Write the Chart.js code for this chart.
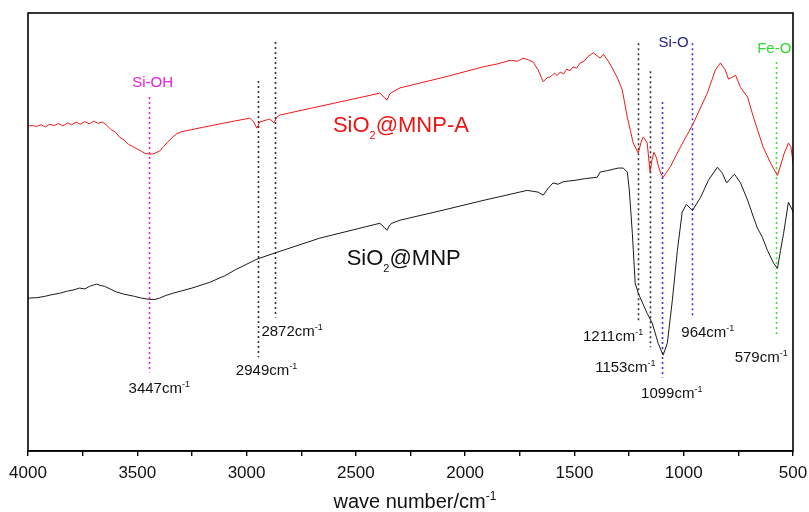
<!DOCTYPE html>
<html>
<head>
<meta charset="utf-8">
<script src="https://cdn.jsdelivr.net/npm/chart.js@4"></script>
<style>
  html, body { margin: 0; padding: 0; background: #fff; }
  #wrap { width: 809px; height: 512px; }
</style>
</head>
<body>
<div id="wrap"><canvas id="ftir" width="809" height="512"></canvas></div>
<script>
// FTIR spectra, wavenumber (cm-1) vs transmittance (arbitrary, 0-100)
const redWave = [4000, 3980, 3960, 3940, 3920, 3900, 3880, 3860, 3840, 3820, 3800, 3780, 3760, 3740, 3720, 3700, 3680, 3660, 3640,
  3620, 3600, 3580, 3560, 3540, 3520, 3500, 3480, 3466, 3447, 3430, 3410, 3397, 3380, 3361, 3340, 3320, 3297, 3200, 3100,
  2985, 2967, 2953, 2940, 2894, 2875, 2860, 2848, 2600, 2390, 2371, 2358, 2345, 2335, 2298, 2100, 1918, 1850, 1794, 1760,
  1735, 1710, 1689, 1666, 1643, 1625, 1611, 1590, 1580, 1565, 1550, 1535, 1520, 1506, 1490, 1474, 1455, 1440, 1414, 1395,
  1382, 1368, 1345, 1322, 1300, 1281, 1258, 1231, 1208, 1195, 1185, 1175, 1167, 1154, 1145, 1136, 1125, 1117, 1105, 1094,
  1060, 1030, 960, 892, 855, 832, 810, 795, 780, 763, 740, 708, 681, 660, 636, 600, 571, 555, 540, 521, 510, 503, 500];
const redT = [74.2, 74.3, 74.1, 74.5, 74.0, 74.6, 74.3, 74.8, 74.2, 74.9, 74.5, 75.1, 74.6, 75.2, 74.7, 75.3, 74.8, 75.1, 74.4,
  73.4, 72.8, 71.6, 71.0, 70.0, 69.5, 68.9, 68.4, 68.0, 67.8, 67.8, 68.2, 68.5, 69.5, 70.5, 71.6, 72.4, 72.9, 73.9, 74.9,
  76.0, 75.1, 73.7, 75.1, 75.8, 74.9, 76.3, 76.7, 79.4, 81.7, 80.8, 80.1, 81.5, 81.9, 82.9, 85.3, 87.7, 88.4, 89.2, 89.0,
  89.7, 89.3, 88.8, 87.0, 84.3, 85.2, 85.4, 86.3, 85.7, 86.5, 86.1, 87.2, 86.8, 87.7, 87.4, 88.6, 89.0, 90.0, 90.9, 90.2,
  89.7, 90.6, 89.0, 87.0, 84.8, 82.4, 76.2, 70.3, 68.0, 70.5, 71.7, 71.0, 70.3, 63.7, 66.5, 68.2, 67.0, 65.3, 63.4, 62.5,
  65.0, 68.0, 74.4, 81.7, 87.0, 88.6, 87.0, 84.9, 85.3, 85.8, 83.0, 80.8, 76.2, 73.0, 69.3, 65.5, 62.9, 65.5, 68.0, 70.3, 69.5, 67.1, 65.5];

const blackWave = [4000, 3960, 3924, 3890, 3856, 3820, 3790, 3764, 3740, 3718, 3700, 3686, 3670, 3650, 3620, 3595, 3560, 3512,
  3480, 3443, 3420, 3398, 3370, 3338, 3250, 3169, 3100, 3054, 2953, 2871, 2665, 2390, 2371, 2358, 2345, 2335, 2298, 2100,
  1918, 1716, 1690, 1666, 1643, 1620, 1598, 1575, 1550, 1497, 1450, 1396, 1382, 1350, 1300, 1277, 1258, 1249, 1235, 1222,
  1208, 1167, 1144, 1117, 1094, 1075, 1052, 1029, 1007, 988, 960, 923, 887, 846, 823, 804, 768, 740, 708, 681, 663, 640,
  617, 589, 571, 557, 543, 521, 503, 500];
const blackT = [34.9, 35.0, 35.3, 35.7, 36.0, 36.5, 36.8, 37.2, 37.0, 37.6, 37.9, 38.1, 37.8, 37.6, 36.9, 36.3, 35.8, 35.3,
  34.9, 34.6, 34.6, 34.9, 35.5, 36.0, 37.2, 38.5, 40.0, 41.3, 43.8, 45.2, 48.6, 52.0, 51.1, 50.4, 51.6, 52.0, 52.7, 55.0,
  57.2, 59.5, 59.3, 59.1, 58.4, 60.0, 61.2, 60.9, 61.5, 61.8, 62.2, 62.5, 63.7, 64.0, 64.6, 64.6, 63.7, 59.6, 49.7, 38.3,
  36.0, 31.4, 29.2, 24.6, 21.9, 24.6, 34.4, 45.8, 54.5, 56.3, 54.9, 57.9, 61.8, 64.8, 63.4, 61.2, 63.2, 61.2, 57.3, 53.4, 50.9, 48.8,
  45.8, 42.9, 41.7, 45.8, 49.7, 56.8, 55.0, 54.5];

const xTickLabels = [4000, 3500, 3000, 2500, 2000, 1500, 1000, 500];

// peak markers: wavenumber, dotted line extent (in T), colour
const peakWave = [3447, 2949, 2872, 1211, 1153, 1099, 964, 579];
const markers = [
  { top: 80.8, bottom: 17.9, color: "#e31fe3" },
  { top: 84.5, bottom: 21.4, color: "#333333" },
  { top: 93.4, bottom: 30.5, color: "#333333" },
  { top: 93.1, bottom: 29.8, color: "#333333" },
  { top: 86.7, bottom: 23.7, color: "#333333" },
  { top: 79.7, bottom: 16.8, color: "#3535f0" },
  { top: 93.1, bottom: 30.3, color: "#3535f0" },
  { top: 88.8, bottom: 26.0, color: "#2ee82e" },
];

// text labels placed in data coordinates (left edge, baseline)
const labels = [
  { x: 3523, y: 83.0, color: "#e31fe3", size: 15, parts: [["Si-OH"]] },
  { x: 1115, y: 92.3, color: "#23238c", size: 15, parts: [["Si-O"]] },
  { x: 664, y: 90.9, color: "#2edb2e", size: 15, parts: [["Fe-O"]] },
  { x: 3540, y: 13.3, color: "#111", size: 15, parts: [["3447cm"], ["-1", "sup"]] },
  { x: 3049, y: 17.3, color: "#111", size: 15, parts: [["2949cm"], ["-1", "sup"]] },
  { x: 2932, y: 26.2, color: "#111", size: 15, parts: [["2872cm"], ["-1", "sup"]] },
  { x: 1461, y: 25.1, color: "#111", size: 15, parts: [["1211cm"], ["-1", "sup"]] },
  { x: 1405, y: 18.0, color: "#111", size: 15, parts: [["1153cm"], ["-1", "sup"]] },
  { x: 1195, y: 12.1, color: "#111", size: 15, parts: [["1099cm"], ["-1", "sup"]] },
  { x: 1011, y: 26.0, color: "#111", size: 15, parts: [["964cm"], ["-1", "sup"]] },
  { x: 767, y: 20.3, color: "#111", size: 15, parts: [["579cm"], ["-1", "sup"]] },
  { x: 2605, y: 72.9, color: "#ee1414", size: 22, parts: [["SiO"], ["2", "sub"], ["@MNP-A"]] },
  { x: 2542, y: 42.4, color: "#111", size: 22, parts: [["SiO"], ["2", "sub"], ["@MNP"]] },
];

const FONT = "'Liberation Sans', Arial, Helvetica, sans-serif";

function toPoints(xs, ys) {
  return xs.map((x, i) => ({ x, y: ys[i] }));
}

function drawRich(ctx, parts, x, y, size, color) {
  ctx.fillStyle = color;
  ctx.textBaseline = "alphabetic";
  ctx.textAlign = "left";
  let cx = x;
  parts.forEach(([text, kind]) => {
    let fs = size;
    let dy = 0;
    if (kind === "sup") { fs = size * 0.6; dy = -size * 0.4; }
    if (kind === "sub") { fs = size * 0.5; dy = size * 0.32; }
    ctx.font = `${fs}px ${FONT}`;
    ctx.fillText(text, cx, y + dy);
    cx += ctx.measureText(text).width;
  });
}

const annotatePlugin = {
  id: "annotate",
  beforeDatasetsDraw(chart) {
    const { ctx, scales } = chart;
    ctx.save();
    ctx.lineWidth = 1.6;
    ctx.setLineDash([2, 3]);
    peakWave.forEach((w, i) => {
      const m = markers[i];
      const px = Math.round(scales.x.getPixelForValue(w)) + 0.5;
      ctx.strokeStyle = m.color;
      ctx.beginPath();
      ctx.moveTo(px, scales.y.getPixelForValue(m.top));
      ctx.lineTo(px, scales.y.getPixelForValue(m.bottom));
      ctx.stroke();
    });
    ctx.restore();
  },
  afterDraw(chart) {
    const { ctx, scales, chartArea } = chart;
    ctx.save();
    // frame
    ctx.strokeStyle = "#000";
    ctx.lineWidth = 1.6;
    ctx.strokeRect(chartArea.left, chartArea.top, chartArea.right - chartArea.left, chartArea.bottom - chartArea.top);
    labels.forEach((l) => {
      drawRich(ctx, l.parts, scales.x.getPixelForValue(l.x), scales.y.getPixelForValue(l.y), l.size, l.color);
    });
    // axis title
    ctx.font = `20px ${FONT}`;
    const main = "wave number/cm";
    const wMain = ctx.measureText(main).width;
    ctx.font = `11px ${FONT}`;
    const wSup = ctx.measureText("-1").width;
    const cx = (chartArea.left + chartArea.right) / 2 + 4;
    drawRich(ctx, [[main], ["-1", "sup"]], cx - (wMain + wSup) / 2, 508, 20, "#111");
    ctx.restore();
  },
};

new Chart(document.getElementById("ftir"), {
  type: "line",
  data: {
    datasets: [
      {
        label: "SiO2@MNP-A",
        data: toPoints(redWave, redT),
        borderColor: "#f01818",
        borderWidth: 1,
        pointRadius: 0,
        tension: 0,
      },
      {
        label: "SiO2@MNP",
        data: toPoints(blackWave, blackT),
        borderColor: "#1a1a1a",
        borderWidth: 1,
        pointRadius: 0,
        tension: 0,
      },
    ],
  },
  plugins: [annotatePlugin],
  options: {
    responsive: false,
    animation: false,
    layout: { padding: { left: 28, right: 16, top: 13, bottom: 0 } },
    plugins: { legend: { display: false }, tooltip: { enabled: false } },
    scales: {
      x: {
        type: "linear",
        reverse: true,
        min: 500,
        max: 4000,
        afterFit(scale) {
          scale.height = 61;
          scale.paddingLeft = 0;
          scale.paddingRight = 0;
        },
        border: { display: true, color: "#000", width: 1.6 },
        grid: { display: true, drawOnChartArea: false, drawTicks: true, tickLength: 5, color: "#000", lineWidth: 1.4 },
        ticks: {
          stepSize: 250,
          padding: 7,
          maxRotation: 0,
          autoSkip: false,
          color: "#111",
          font: { family: FONT, size: 17 },
          callback: (v) => (xTickLabels.includes(v) ? String(v) : ""),
        },
        title: { display: false },
      },
      y: { display: false, min: 0, max: 100 },
    },
  },
});
</script>
</body>
</html>
